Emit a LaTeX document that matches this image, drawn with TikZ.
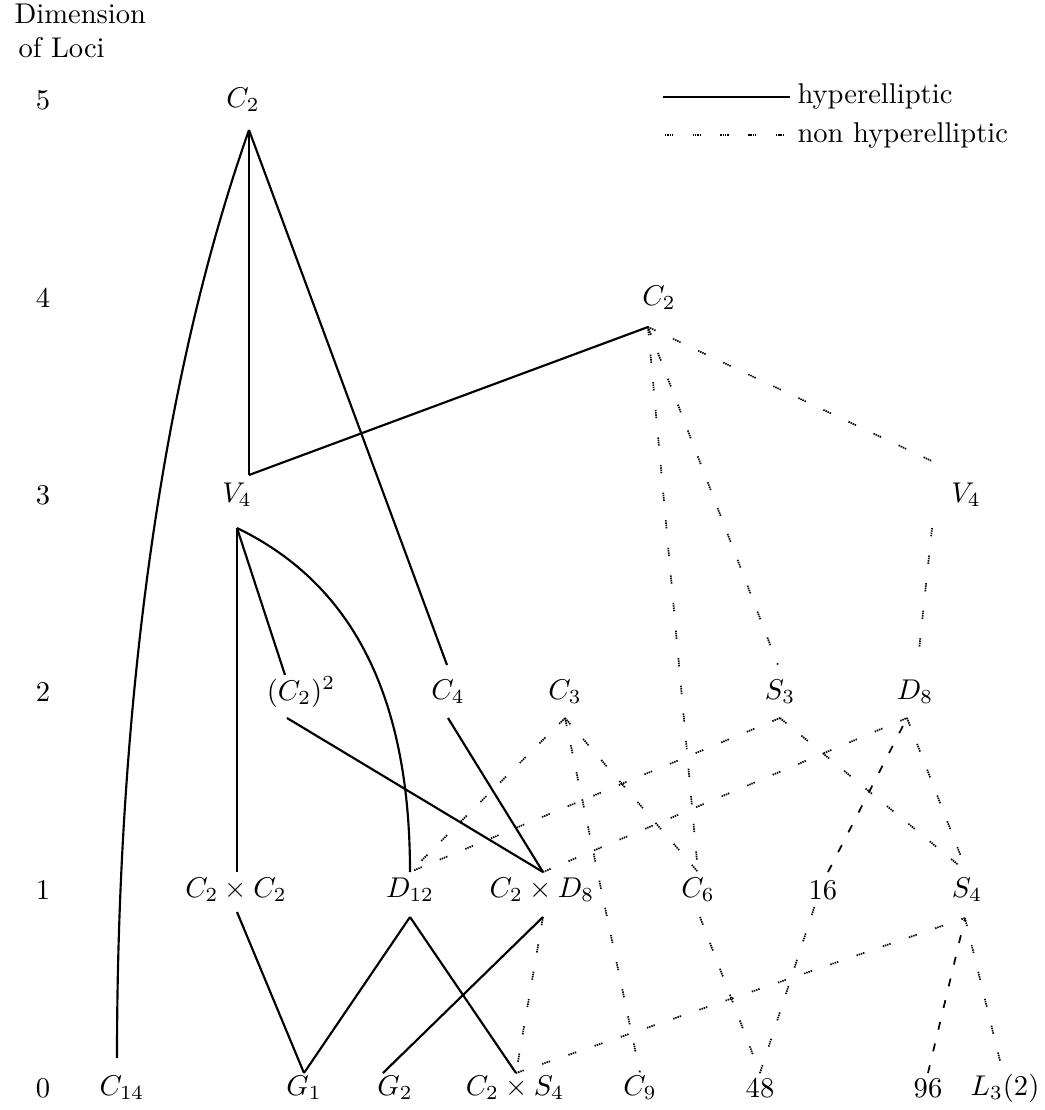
\documentclass[tikz,border=0pt]{standalone}
\usetikzlibrary{calc}
\begin{document}
\begin{tikzpicture}[x=0.35pt,y=-0.35pt,
  hyp/.style={line width=0.75pt},
  nonhyp/.style={line width=0.6pt,
    dash pattern=on 0.5pt off 0.3pt on 0.5pt off 0.3pt on 0.5pt off 0.3pt on 0.5pt off 6.8pt},
  nonhypb/.style={line width=0.6pt, dash pattern=on 2.8pt off 5pt},
  lab/.style={inner sep=0pt}]
\useasboundingbox (0,0) rectangle (1045,1110);

% axis title and levels
\node[lab,anchor=west] (dim) at (14,14) {Dimension};
\node[lab,anchor=west] (loci) at (18,48) {of Loci};
\node[lab] (l5) at (43,100) {5};
\node[lab] (l4) at (43,298) {4};
\node[lab] (l3) at (43,495) {3};
\node[lab] (l2) at (43,692) {2};
\node[lab] (l1) at (43,890) {1};
\node[lab] (l0) at (43,1088) {0};

% legend
\coordinate (lega) at (663,97);
\coordinate (legb) at (790,97);
\coordinate (legc) at (665,135);
\coordinate (legd) at (790,135);
\draw[hyp] (lega) -- (legb);
\draw[nonhyp] (legc) -- (legd);
\node[lab,anchor=west] (leg1) at (797,97) {hyperelliptic};
\node[lab,anchor=west] (leg2) at (797,135) {non hyperelliptic};

% group labels
\node[lab] (c2a) at (243,100) {$C_2$};
\node[lab] (c2b) at (659,298) {$C_2$};
\node[lab] (v4a) at (237,495) {$V_4$};
\node[lab] (v4b) at (966,495) {$V_4$};
\node[lab] (c2sq) at (301,692) {$(C_2)^2$};
\node[lab] (c4) at (448,692) {$C_4$};
\node[lab] (c3) at (565,692) {$C_3$};
\node[lab] (s3) at (780,692) {$S_3$};
\node[lab] (d8) at (915,692) {$D_8$};
\node[lab] (c2c2) at (236,890) {$C_2\times C_2$};
\node[lab] (d12) at (410,890) {$D_{12}$};
\node[lab] (c2d8) at (542,890) {$C_2\times D_8$};
\node[lab] (c6) at (698,890) {$C_6$};
\node[lab] (n16) at (823,890) {$16$};
\node[lab] (s4) at (967,890) {$S_4$};
\node[lab] (c14) at (122,1088) {$C_{14}$};
\node[lab] (g1) at (304,1088) {$G_1$};
\node[lab] (g2) at (395,1088) {$G_2$};
\node[lab] (c2s4) at (515,1088) {$C_2\times S_4$};
\node[lab] (c9) at (640,1088) {$C_9$};
\node[lab] (n48) at (760,1088) {$48$};
\node[lab] (n96) at (928,1088) {$96$};
\node[lab] (l32) at (1005,1088) {$L_3(2)$};

% connection points
\coordinate (c2a-s) at (249,130);
\coordinate (c2b-s) at (648,327);
\coordinate (v4a-n) at (249,475);
\coordinate (v4a-s) at (237,528);
\coordinate (v4b-n) at (936,463);
\coordinate (v4b-s) at (932,528);
\coordinate (c2sq-n) at (285,675);
\coordinate (c2sq-s) at (287,718);
\coordinate (c4-n) at (447,665);
\coordinate (c4-s) at (448,718);
\coordinate (c3-s) at (565,718);
\coordinate (s3-n) at (778,665);
\coordinate (s3-s) at (780,718);
\coordinate (d8-n) at (918,660);
\coordinate (d8-s) at (907,718);
\coordinate (c2c2-n) at (237,872);
\coordinate (c2c2-s) at (237,912);
\coordinate (d12-n) at (410,872);
\coordinate (d12-s) at (410,917);
\coordinate (c2d8-n) at (543,872);
\coordinate (c2d8-s) at (543,917);
\coordinate (c6-n) at (698,872);
\coordinate (c6-s) at (700,917);
\coordinate (n16-n) at (828,872);
\coordinate (n16-s) at (815,905);
\coordinate (s4-n) at (967,872);
\coordinate (s4-s) at (965,918);
\coordinate (c14-n) at (117,1058);
\coordinate (g1-n) at (304,1073);
\coordinate (g2-n) at (383,1073);
\coordinate (c2s4-n) at (516,1073);
\coordinate (c9-n) at (640,1073);
\coordinate (n48-n) at (760,1073);
\coordinate (n96-n) at (928,1073);
\coordinate (l32-n) at (1003,1073);

% hyperelliptic
\draw[hyp] (c2a-s) .. controls (150,410) and (117,760) .. (c14-n);
\draw[hyp] (c2a-s) -- (v4a-n);
\draw[hyp] (c2a-s) -- (c4-n);
\draw[hyp] (v4a-n) -- (c2b-s);
\draw[hyp] (v4a-s) -- (c2c2-n);
\draw[hyp] (v4a-s) -- (c2sq-n);
\draw[hyp] (v4a-s) .. controls (355,585) and (410,700) .. (d12-n);
\draw[hyp] (c2sq-s) -- (c2d8-n);
\draw[hyp] (c4-s) -- (c2d8-n);
\draw[hyp] (c2c2-s) -- (g1-n);
\draw[hyp] (g1-n) -- (d12-s);
\draw[hyp] (d12-s) -- (c2s4-n);
\draw[hyp] (g2-n) -- (c2d8-s);

% non hyperelliptic
\draw[nonhyp] (c2b-s) -- (v4b-n);
\draw[nonhyp] (c2b-s) -- (c6-n);
\draw[nonhyp] (c2b-s) -- (s3-n);
\draw[nonhyp] (v4b-s) -- (d8-n);
\draw[nonhyp] (c3-s) -- (d12-n);
\draw[nonhyp] (c3-s) -- (c6-n);
\draw[nonhyp] (c3-s) -- (c9-n);
\draw[nonhyp] (s3-s) -- (d12-n);
\draw[nonhyp] (s3-s) -- (s4-n);
\draw[nonhyp] (c2d8-n) -- (d8-s);
\draw[nonhyp] (d8-s) -- (s4-n);
\draw[nonhypb] (n16-n) -- (d8-s);
\draw[nonhyp] (n48-n) -- (n16-s);
\draw[nonhyp] (c2d8-s) -- (c2s4-n);
\draw[nonhyp] (c2s4-n) -- (s4-s);
\draw[nonhyp] (c6-s) -- (n48-n);
\draw[nonhypb] (n96-n) -- (s4-s);
\draw[nonhyp] (s4-s) -- (l32-n);
\end{tikzpicture}
\end{document}
